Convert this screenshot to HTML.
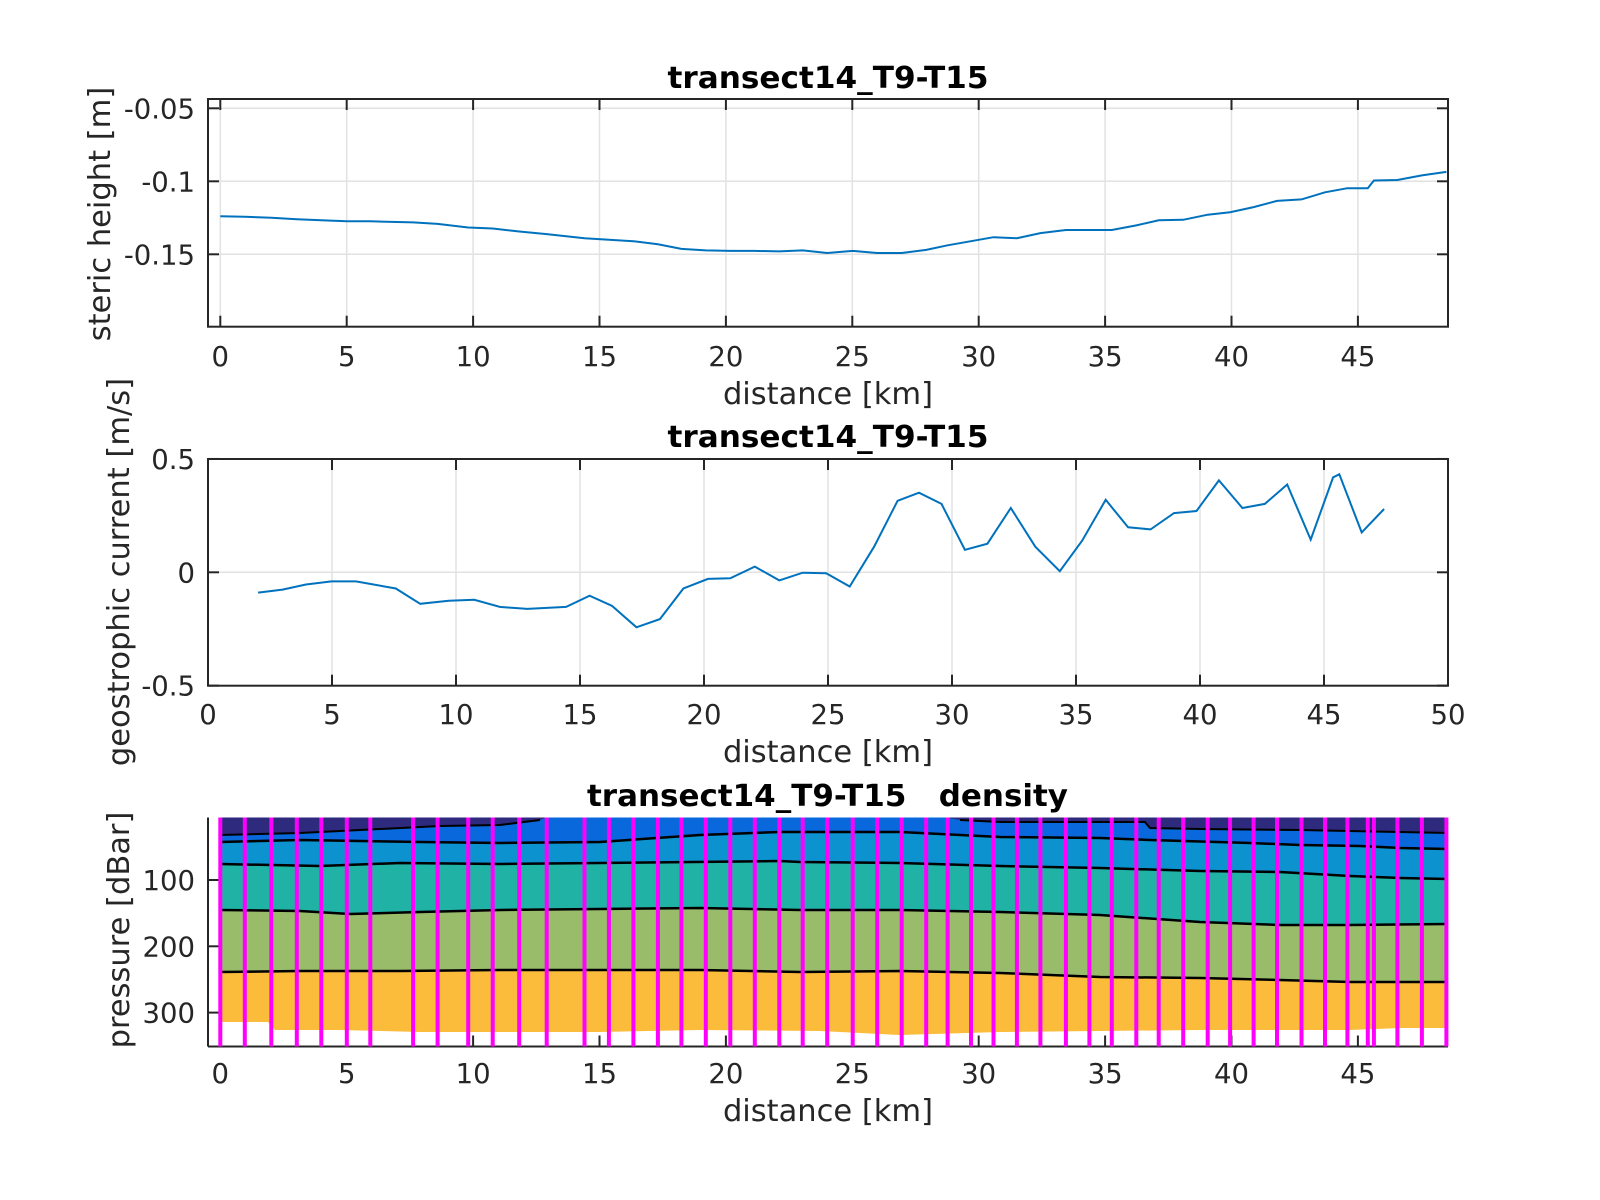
<!DOCTYPE html>
<html><head><meta charset="utf-8"><style>html,body{margin:0;padding:0;background:#fff;}svg{display:block}</style></head>
<body>
<svg id="s" xmlns="http://www.w3.org/2000/svg" width="1600" height="1200" viewBox="0 0 1600 1200" font-family="DejaVu Sans, Liberation Sans, sans-serif"></svg>
<script>
const S=document.getElementById('s');let h='';
const K=1.02;
const L=208,R=1448;
const P1={t:99,b:326.7},P2={t:459,b:685.7},P3={t:817.5,b:1046.5};
const x13=k=>220.3+k*25.28, x2=k=>208+k*24.8;
const TS=27.5, LS=30.5;
function line(x1,y1,x2,y2,c,w){h+=`<line x1="${x1}" y1="${y1}" x2="${x2}" y2="${y2}" stroke="${c}" stroke-width="${w}"/>`;}
function txt(x,y,s,sz,anc,extra){h+=`<text x="${x}" y="${y}" font-size="${sz}" fill="#262626" text-anchor="${anc}" ${extra||''}>${s}</text>`;}
function title(y,s,len){h+=`<text x="828" y="${y}" font-size="30" font-weight="bold" fill="#000" text-anchor="middle" textLength="${len}" lengthAdjust="spacingAndGlyphs">${s}</text>`;}
// plot1
const y1=v=>108.3+(-0.05-v)/0.05*73;
for(let k=0;k<=45;k+=5){line(x13(k),P1.t,x13(k),P1.b,'#e2e2e2',1.5);}
[-0.05,-0.1,-0.15].forEach(v=>line(L,y1(v),R,y1(v),'#e2e2e2',1.5));
const st=[[216,212],[240,212.5],[266,213.5],[291,215],[315,216],[340,217],[363,217],[405,218],[429,219.5],[459,223],[483,224],[509,227],[536,229.5],[573,233.5],[597,235],[621,236.5],[645,239.5],[668,244],[692,245.5],[716,246],[740,246],[764,246.5],[787,245.5],[811,248],[836,246],[860,248],[884,248],[908,245],[929,240.5],[952,236.5],[974,232.5],[997,233.5],[1020,228.5],[1045,225.5],[1068,225.5],[1090,225.5],[1114,221],[1136,216],[1160,215.5],[1184,210.5],[1206,208],[1229,203],[1252,197],[1276,195.5],[1299,188.5],[1321,184.5],[1341,184.5],[1347,177],[1370,176.5],[1394,172],[1418,168.5]];
h+=`<polyline fill="none" stroke="#0072BD" stroke-width="2" points="${st.map(p=>(p[0]*K).toFixed(1)+','+(p[1]*K).toFixed(1)).join(' ')}"/>`;
h+=`<rect x="${L}" y="${P1.t}" width="${R-L}" height="${P1.b-P1.t}" fill="none" stroke="#262626" stroke-width="2"/>`;
for(let k=0;k<=45;k+=5){line(x13(k),P1.t,x13(k),P1.t+11,'#262626',2);line(x13(k),P1.b,x13(k),P1.b-11,'#262626',2);txt(x13(k),366,k,TS,'middle');}
[-0.05,-0.1,-0.15].forEach(v=>{line(L,y1(v),L+11,y1(v),'#262626',2);line(R,y1(v),R-11,y1(v),'#262626',2);txt(195,y1(v)+10,v===-0.1?'-0.1':v.toFixed(2),TS,'end');});
txt(828,404,'distance [km]',LS,'middle');
h+=`<text transform="translate(110,214) rotate(-90)" font-size="${LS}" fill="#262626" text-anchor="middle">steric height [m]</text>`;
title(88,'transect14_T9-T15',321);
// plot2
const y2=v=>572.3-v*226.7;
for(let k=5;k<50;k+=5){line(x2(k),P2.t,x2(k),P2.b,'#e2e2e2',1.5);}
line(L,y2(0),R,y2(0),'#e2e2e2',1.5);
const gc=[[253,581],[277,578],[300,573],[325,570],[349,570],[388,577],[412,592],[440,589],[465,588],[490,595],[517,597],[555,595],[578,584],[600,594],[624,615],[647,607],[670,577],[694,567.5],[716,567],[740,555.5],[764,569],[787,561.5],[810,562],[833,575],[857,536],[880,491],[901,483],[923,494],[946,539],[968,533],[991,498],[1015,536],[1039,560],[1061,530],[1084,490],[1106,517],[1128,519],[1151,503],[1173,501],[1195,471],[1218,498],[1240,494],[1262,475],[1285,529],[1307,468],[1313,465],[1335,522],[1357,499]];
h+=`<polyline fill="none" stroke="#0072BD" stroke-width="2" points="${gc.map(p=>(p[0]*K).toFixed(1)+','+(p[1]*K).toFixed(1)).join(' ')}"/>`;
h+=`<rect x="${L}" y="${P2.t}" width="${R-L}" height="${P2.b-P2.t}" fill="none" stroke="#262626" stroke-width="2"/>`;
for(let k=0;k<=50;k+=5){line(x2(k),P2.t,x2(k),P2.t+11,'#262626',2);line(x2(k),P2.b,x2(k),P2.b-11,'#262626',2);txt(x2(k),724,k,TS,'middle');}
[0.5,0,-0.5].forEach(v=>{line(L,y2(v),L+11,y2(v),'#262626',2);line(R,y2(v),R-11,y2(v),'#262626',2);txt(195,y2(v)+10,v,TS,'end');});
txt(828,762,'distance [km]',LS,'middle');
h+=`<text transform="translate(129,572) rotate(-90)" font-size="${LS}" fill="#262626" text-anchor="middle">geostrophic current [m/s]</text>`;
title(447,'transect14_T9-T15',321);
// plot3
const X0=220.3,X1=1448,T=817.5;
const bands=[
 ['#2e2a7e',null],
 ['#0868dc',[[X0,835],[300,833],[360,830],[440,826],[500,825],[540,820],[546,T],[945,T],[960,820],[1000,822],[1145,822],[1150,828],[1200,829],[1300,830],[1400,832],[X1,833]]],
 ['#0c93cf',[[X0,842],[300,840],[420,842],[500,843],[600,842],[700,835],[780,832],[900,832],[1000,837],[1100,838],[1150,840],[1250,843],[1300,845],[1360,846],[1400,848],[X1,849]]],
 ['#21b2a6',[[X0,864],[320,866],[400,863],[500,864],[600,863],[780,861],[800,862],[900,863],[1000,866],[1100,868],[1200,871],[1280,872],[1350,876],[1400,878],[X1,879]]],
 ['#98bc6a',[[X0,910],[300,911],[350,914],[420,912],[500,910],[600,909],[700,908],[800,910],[900,910],[1000,912],[1100,915],[1200,922],[1280,925],[1350,925],[X1,924]]],
 ['#fbbc3c',[[X0,972],[300,971],[400,971],[500,970],[700,970],[800,972],[900,971],[1000,973],[1100,977],[1200,978],[1280,980],[1350,982],[X1,982]]],
 ['#ffffff',[[X0,1022],[268,1022],[275,1030],[340,1030],[420,1032],[600,1032],[700,1030],[820,1031],[900,1035],[1000,1032],[1200,1030],[1350,1030],[1400,1028],[X1,1028]]]
];
h+=`<rect x="${X0}" y="${T}" width="${X1-X0}" height="${P3.b-T}" fill="${bands[0][0]}"/>`;
for(let i=1;i<bands.length;i++){const pts=bands[i][1];
 h+=`<polygon fill="${bands[i][0]}" points="${pts.map(p=>p[0]+','+p[1]).join(' ')} ${X1},${P3.b} ${X0},${P3.b}"/>`;}
for(let i=1;i<bands.length-1;i++){const pts=bands[i][1];
 if(i===1){h+=`<polyline fill="none" stroke="#000" stroke-width="2" points="${pts.slice(0,6).map(p=>p.join(',')).join(' ')}"/><polyline fill="none" stroke="#000" stroke-width="2" points="${pts.slice(8).map(p=>p.join(',')).join(' ')}"/>`;}
 else h+=`<polyline fill="none" stroke="#000" stroke-width="2.5" points="${pts.map(p=>p.join(',')).join(' ')}"/>`;}
h+=`<rect x="0" y="${T-30}" width="1600" height="30" fill="#fff"/>`;
const mg=[216,240,266,291,315,340,363,405,429,459,483,509,536,573,597,621,645,668,692,716,740,764,787,811,836,860,884,908,929,952,974,997,1020,1045,1068,1090,1114,1136,1160,1184,1206,1229,1252,1276,1299,1321,1341,1347,1370,1394,1418];
const y3=v=>880+(v-100)*0.663;
line(L,P3.t,L,P3.b,'#262626',2);line(L,P3.b,R,P3.b,'#262626',2);
for(let k=0;k<=45;k+=5){line(x13(k),P3.b,x13(k),P3.b-11,'#262626',2);txt(x13(k),1083,k,TS,'middle');}
[100,200,300].forEach(v=>{line(L,y3(v),L+11,y3(v),'#262626',2);txt(195,y3(v)+10,v,TS,'end');});
mg.forEach(d=>{const x=(d*K).toFixed(1);line(x,P3.t,x,P3.b,'#ff00ff',4);});
txt(828,1121,'distance [km]',LS,'middle');
h+=`<text transform="translate(129,930) rotate(-90)" font-size="${LS}" fill="#262626" text-anchor="middle">pressure [dBar]</text>`;
h+=`<text x="587" y="806" font-size="30" font-weight="bold" fill="#000" textLength="481" lengthAdjust="spacingAndGlyphs" xml:space="preserve">transect14_T9-T15   density</text>`;
S.innerHTML=h;
</script>
</body></html>
